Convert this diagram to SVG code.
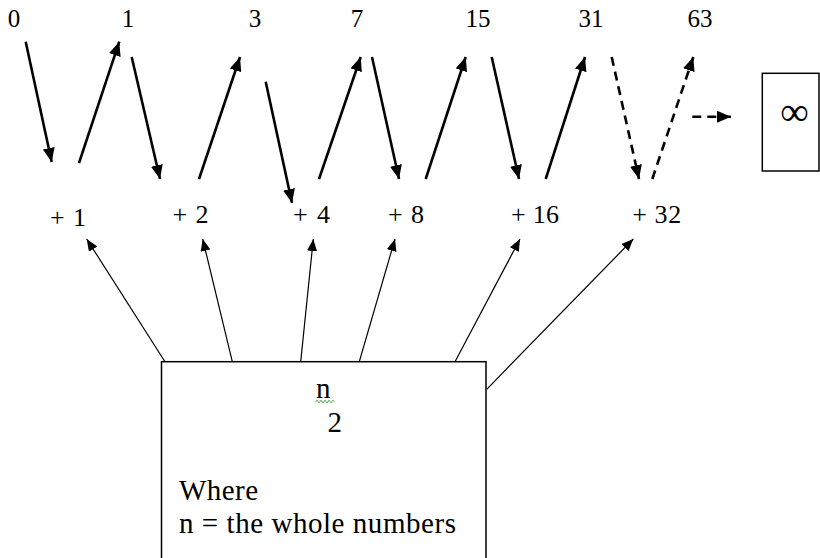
<svg xmlns="http://www.w3.org/2000/svg" width="820" height="558" viewBox="0 0 820 558">
  <style>
    text { font-family: "Liberation Serif", "Times New Roman", serif; fill: #000; }
    .top { font-size: 25px; text-anchor: middle; }
    .lbl { font-size: 26px; text-anchor: middle; }
    .box { font-size: 29px; }
    .bold { stroke: #000; stroke-width: 2.6; fill: none; marker-end: url(#big); }
    .dash { stroke: #000; stroke-width: 2.6; fill: none; stroke-dasharray: 9 6; marker-end: url(#big); }
    .thin { stroke: #000; stroke-width: 1.2; fill: none; marker-end: url(#small); }
    .frame { fill: #fff; stroke: #000; stroke-width: 1.5; }
  </style>
  <defs>
    <marker id="big" markerUnits="userSpaceOnUse" markerWidth="14" markerHeight="12" refX="14" refY="6" orient="auto">
      <path d="M0,0 L14,6 L0,12 z" fill="#000"/>
    </marker>
    <marker id="small" markerUnits="userSpaceOnUse" markerWidth="12" markerHeight="10" refX="12" refY="5" orient="auto">
      <path d="M0,0 L12,5 L0,10 z" fill="#000"/>
    </marker>
  </defs>
  <rect width="820" height="558" fill="#fff"/>

  <g id="top-numbers">
    <text class="top" x="14" y="27">0</text>
    <text class="top" x="128" y="27">1</text>
    <text class="top" x="255" y="27">3</text>
    <text class="top" x="357" y="27">7</text>
    <text class="top" x="478" y="27">15</text>
    <text class="top" x="591" y="27">31</text>
    <text class="top" x="700" y="27">63</text>
  </g>

  <g id="increments">
    <text class="lbl" x="68" y="226" textLength="36">+ 1</text>
    <text class="lbl" x="190.5" y="222.7" textLength="36">+ 2</text>
    <text class="lbl" x="311.5" y="222.7" textLength="37">+ 4</text>
    <text class="lbl" x="406" y="222.7" textLength="36">+ 8</text>
    <text class="lbl" x="535" y="222.7" textLength="48">+ 16</text>
    <text class="lbl" x="656.7" y="222.7" textLength="49">+ 32</text>
  </g>

  <g id="infinity-box">
    <rect class="frame" x="762.3" y="73.3" width="56.7" height="97.7"/>
    <text x="794.5" y="125" style="font-size:40px;text-anchor:middle">∞</text>
  </g>

  <g id="formula-box">
    <rect class="frame" x="161.5" y="361.7" width="324.5" height="210"/>
    <text class="box" x="316" y="398">n</text>
    <path d="M316,401.5 q1,-2.5 2,0 t2,0 t2,0 t2,0 t2,0 t2,0 t2,0 t2,0 t2,0" stroke="#3a9a3a" stroke-width="1" fill="none"/>
    <text class="box" x="327.5" y="431.7">2</text>
    <text class="box" x="179" y="499.5" textLength="79">Where</text>
    <text class="box" x="179" y="532.7" textLength="277">n = the whole numbers</text>
  </g>

  <g id="connectors">
    <line class="bold" x1="25.7" y1="41.7" x2="51.7" y2="162"/>
    <line class="bold" x1="79" y1="163" x2="119.3" y2="41.7"/>
    <line class="bold" x1="131.7" y1="57" x2="160" y2="179"/>
    <line class="bold" x1="199" y1="179" x2="240" y2="57"/>
    <line class="bold" x1="265.7" y1="81.7" x2="292" y2="203"/>
    <line class="bold" x1="319" y1="179" x2="360.7" y2="57"/>
    <line class="bold" x1="372" y1="57" x2="399" y2="179"/>
    <line class="bold" x1="425.7" y1="179" x2="465.7" y2="57"/>
    <line class="bold" x1="491.7" y1="57" x2="519" y2="179"/>
    <line class="bold" x1="545.7" y1="179" x2="585" y2="57"/>
    <line class="dash" x1="611.7" y1="57" x2="639" y2="179"/>
    <line class="dash" x1="652.3" y1="179" x2="693.3" y2="57"/>
    <line class="dash" x1="692.3" y1="116.7" x2="731" y2="116.7"/>

    <line class="thin" x1="165" y1="361.7" x2="86.7" y2="239"/>
    <line class="thin" x1="232.3" y1="361.7" x2="202.7" y2="239"/>
    <line class="thin" x1="300.7" y1="361.7" x2="313.3" y2="239"/>
    <line class="thin" x1="359.3" y1="361.7" x2="395" y2="239"/>
    <line class="thin" x1="455" y1="361.7" x2="520" y2="239"/>
    <line class="thin" x1="486.7" y1="389.3" x2="633.3" y2="239"/>
  </g>
</svg>
